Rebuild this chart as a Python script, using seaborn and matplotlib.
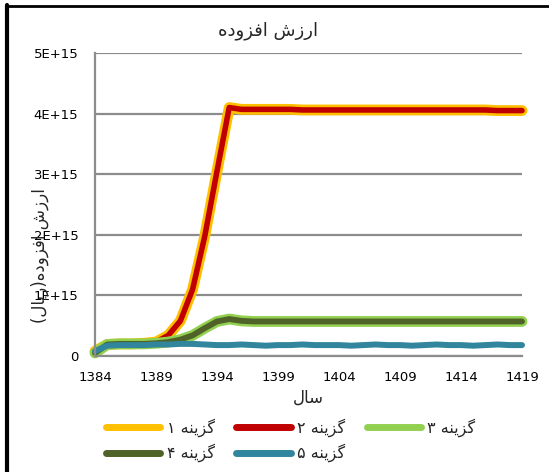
import matplotlib
matplotlib.use("Agg")

import pandas as pd
import matplotlib.pyplot as plt
import seaborn as sns
from matplotlib.lines import Line2D

# ----------------------------------------------------
# Data (values in 1E+15 rial)
# ----------------------------------------------------
years = list(range(1384, 1420))

option1 = [0.08, 0.19, 0.20, 0.20, 0.21, 0.23, 0.34, 0.58, 1.10, 1.98, 3.05, 4.10,
           4.07, 4.07, 4.07, 4.07, 4.07, 4.06, 4.06, 4.06, 4.06, 4.06, 4.06, 4.06,
           4.06, 4.06, 4.06, 4.06, 4.06, 4.06, 4.06, 4.06, 4.06, 4.05, 4.05, 4.05]
option2 = [0.08, 0.19, 0.20, 0.20, 0.21, 0.23, 0.34, 0.58, 1.10, 1.98, 3.05, 4.10,
           4.07, 4.07, 4.07, 4.07, 4.07, 4.06, 4.06, 4.06, 4.06, 4.06, 4.06, 4.06,
           4.06, 4.06, 4.06, 4.06, 4.06, 4.06, 4.06, 4.06, 4.06, 4.05, 4.05, 4.05]
option3 = [0.05, 0.19, 0.20, 0.20, 0.20, 0.21, 0.23, 0.27, 0.34, 0.46, 0.57, 0.61,
           0.58, 0.57, 0.57, 0.57, 0.57, 0.57, 0.57, 0.57, 0.57, 0.57, 0.57, 0.57,
           0.57, 0.57, 0.57, 0.57, 0.57, 0.57, 0.57, 0.57, 0.57, 0.57, 0.57, 0.57]
option4 = [0.05, 0.19, 0.20, 0.20, 0.20, 0.21, 0.23, 0.27, 0.34, 0.46, 0.57, 0.61,
           0.58, 0.57, 0.57, 0.57, 0.57, 0.57, 0.57, 0.57, 0.57, 0.57, 0.57, 0.57,
           0.57, 0.57, 0.57, 0.57, 0.57, 0.57, 0.57, 0.57, 0.57, 0.57, 0.57, 0.57]
option5 = [0.08, 0.17, 0.18, 0.18, 0.18, 0.19, 0.19, 0.20, 0.20, 0.19, 0.18, 0.18,
           0.19, 0.18, 0.17, 0.18, 0.18, 0.19, 0.18, 0.18, 0.18, 0.17, 0.18, 0.19,
           0.18, 0.18, 0.17, 0.18, 0.19, 0.18, 0.18, 0.17, 0.18, 0.19, 0.18, 0.18]

series_names = ["گزینه ۱", "گزینه ۲", "گزینه ۳", "گزینه ۴", "گزینه ۵"]
series_values = [option1, option2, option3, option4, option5]
colors = ["#FFC000", "#C00000", "#92D050", "#4F6228", "#31859C"]
widths = [7.8, 4.0, 7.8, 4.2, 4.3]

y_ticks = [0, 1, 2, 3, 4, 5]
y_tick_labels = ["0", "1E+15", "2E+15", "3E+15", "4E+15", "5E+15"]
x_ticks = [1384, 1389, 1394, 1399, 1404, 1409, 1414, 1419]

title_text = "ارزش افزوده"
xlabel_text = "سال"
ylabel_text = "ارزش افزوده(ریال)"


# ----------------------------------------------------
# Minimal Persian shaping (matplotlib has no bidi / joining)
# ----------------------------------------------------
FORMS = {
    "ا": ("\uFE8D", "\uFE8E", None, None),
    "ر": ("\uFEAD", "\uFEAE", None, None),
    "ز": ("\uFEAF", "\uFEB0", None, None),
    "د": ("\uFEA9", "\uFEAA", None, None),
    "و": ("\uFEED", "\uFEEE", None, None),
    "ش": ("\uFEB5", "\uFEB6", "\uFEB7", "\uFEB8"),
    "س": ("\uFEB1", "\uFEB2", "\uFEB3", "\uFEB4"),
    "ف": ("\uFED1", "\uFED2", "\uFED3", "\uFED4"),
    "ه": ("\uFEE9", "\uFEEA", "\uFEEB", "\uFEEC"),
    "ی": ("\uFBFC", "\uFBFD", "\uFBFE", "\uFBFF"),
    "ل": ("\uFEDD", "\uFEDE", "\uFEDF", "\uFEE0"),
    "ن": ("\uFEE5", "\uFEE6", "\uFEE7", "\uFEE8"),
    "گ": ("\uFB92", "\uFB93", "\uFB94", "\uFB95"),
}
MIRROR = {"(": ")", ")": "("}


def fa(text):
    out = []
    for i, ch in enumerate(text):
        if ch not in FORMS:
            out.append(MIRROR.get(ch, ch))
            continue
        prev = text[i - 1] if i > 0 else ""
        nxt = text[i + 1] if i + 1 < len(text) else ""
        iso, fin, ini, med = FORMS[ch]
        join_prev = prev in FORMS and FORMS[prev][2] is not None
        join_next = nxt in FORMS and ini is not None
        if join_prev and join_next:
            out.append(med)
        elif join_prev:
            out.append(fin)
        elif join_next:
            out.append(ini)
        else:
            out.append(iso)
    return "".join(reversed(out))


# ----------------------------------------------------
# Long table for seaborn
# ----------------------------------------------------
df = pd.DataFrame({
    "year": years * len(series_names),
    "value": [v * 1e15 for vals in series_values for v in vals],
    "series": [name for name in series_names for _ in years],
})

sns.set_style("white")
plt.rcParams["font.family"] = ["DejaVu Sans"]

fig = plt.figure(figsize=(5.49, 4.72), dpi=100)
ax = fig.add_axes([95 / 549, 1 - 356 / 472, 427 / 549, 303 / 472])

for name, color, lw in zip(series_names, colors, widths):
    sns.lineplot(
        data=df[df["series"] == name],
        x="year",
        y="value",
        color=color,
        linewidth=lw,
        ax=ax,
        legend=False,
    )

for line in ax.get_lines():
    line.set_solid_capstyle("round")
    line.set_solid_joinstyle("round")
    line.set_clip_on(False)

ax.set_xlim(1384, 1419)
ax.set_ylim(0, 5e15)
ax.set_xticks(x_ticks)
ax.set_xticklabels([str(x) for x in x_ticks])
ax.set_yticks([t * 1e15 for t in y_ticks])
ax.set_yticklabels(y_tick_labels)
ax.tick_params(axis="both", length=0, labelsize=9.5, colors="black")
ax.tick_params(axis="y", pad=12)
ax.tick_params(axis="x", pad=11)

ax.grid(axis="y", color="#8C8C8C", linewidth=1.6)
ax.grid(axis="x", visible=False)
ax.set_axisbelow(True)
for side in ["top", "right"]:
    ax.spines[side].set_visible(False)
for side in ["left", "bottom"]:
    ax.spines[side].set_color("#8C8C8C")
    ax.spines[side].set_linewidth(1.6)

ax.set_xlabel(fa(xlabel_text), fontsize=12, labelpad=3)
ax.set_ylabel(fa(ylabel_text), fontsize=12)
ax.yaxis.set_label_coords(-0.108, 0.33)

fig.text(268 / 549, 1 - 31 / 472, fa(title_text), fontsize=13, ha="center", va="center")

# legend, filled row by row
handles = [Line2D([0], [0], color=c, linewidth=5, solid_capstyle="round") for c in colors]
labels = [fa(n) for n in series_names]
order = [0, 3, 1, 4, 2]
fig.legend(
    [handles[i] for i in order],
    [labels[i] for i in order],
    loc="upper left",
    bbox_to_anchor=(106 / 549, 1 - 418 / 472),
    ncol=3,
    frameon=False,
    fontsize=11.5,
    handlelength=3.4,
    handletextpad=0.4,
    columnspacing=1.35,
    labelspacing=0.45,
    borderaxespad=0,
    borderpad=0,
)

# black chart-area border (left and top edges visible in the reference)
fig.add_artist(Line2D([7 / 549, 7 / 549], [0, 1 - 5 / 472], transform=fig.transFigure,
                      color="black", linewidth=3))
fig.add_artist(Line2D([6 / 549, 1], [1 - 6 / 472, 1 - 6 / 472], transform=fig.transFigure,
                      color="black", linewidth=2))

fig.savefig("out.png", dpi=100)
